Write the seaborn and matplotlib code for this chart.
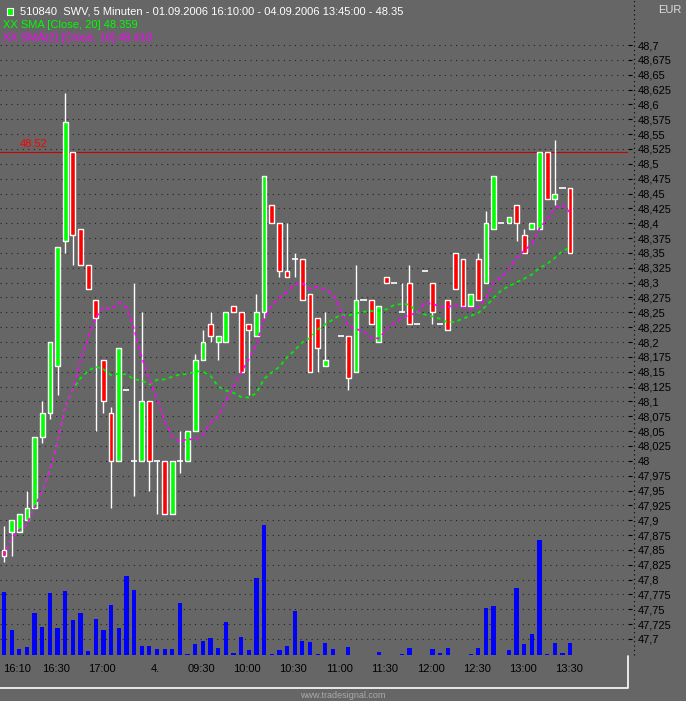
import numpy as np
import pandas as pd
import matplotlib
matplotlib.use("Agg")
import matplotlib.pyplot as plt
import seaborn as sns
from matplotlib.transforms import blended_transform_factory

opens  = [47.85,47.88,47.88,47.90,47.92,48.04,48.08,48.16,48.37,48.52,48.39,48.33,48.27,48.17,48.08,48.00,48.12,48.00,48.00,48.10,
          48.00,48.00,47.91,48.00,48.00,48.05,48.17,48.23,48.20,48.20,48.26,48.25,48.23,48.21,48.25,48.43,48.40,48.32,48.34,48.34,
          48.28,48.24,48.16,np.nan,48.21,48.21,48.15,48.27,48.27,48.20,48.31,48.30,48.25,48.30,48.23,48.32,48.30,48.23,48.27,48.35,
          48.34,48.26,48.34,48.30,48.39,48.40,48.40,48.43,48.38,48.39,48.39,48.52,48.44,48.46,48.46]
highs  = [47.89,47.90,47.91,47.95,48.04,48.10,48.20,48.36,48.62,48.52,48.39,48.33,48.27,48.17,48.09,48.19,48.12,48.30,48.25,48.10,
          48.00,48.00,48.00,48.05,48.05,48.18,48.22,48.25,48.21,48.25,48.26,48.25,48.23,48.28,48.48,48.43,48.40,48.40,48.35,48.34,
          48.28,48.24,48.25,np.nan,48.21,48.21,48.33,48.27,48.27,48.26,48.31,48.30,48.30,48.33,48.23,48.32,48.30,48.23,48.27,48.35,
          48.34,48.28,48.35,48.42,48.48,48.40,48.41,48.43,48.39,48.40,48.52,48.52,48.54,48.46,48.46]
lows   = [47.83,47.84,47.88,47.90,47.92,48.03,48.07,48.11,48.35,48.33,48.33,48.29,48.05,48.08,47.92,48.00,48.12,47.94,48.00,47.95,
          47.91,47.91,47.91,47.98,48.00,48.05,48.17,48.20,48.17,48.20,48.25,48.15,48.11,48.21,48.24,48.40,48.31,48.31,48.31,48.27,
          48.15,48.15,48.16,np.nan,48.21,48.12,48.15,48.27,48.23,48.20,48.30,48.30,48.25,48.23,48.23,48.32,48.23,48.23,48.22,48.29,
          48.26,48.26,48.27,48.30,48.39,48.40,48.40,48.37,48.35,48.39,48.39,48.44,48.43,48.46,48.35]
closes = [47.84,47.90,47.91,47.92,48.04,48.08,48.20,48.36,48.57,48.38,48.33,48.29,48.24,48.10,48.00,48.19,48.12,48.00,48.10,48.00,
          48.00,47.91,48.00,48.00,48.05,48.17,48.20,48.21,48.21,48.25,48.25,48.15,48.22,48.25,48.48,48.40,48.32,48.31,48.34,48.27,
          48.15,48.19,48.17,np.nan,48.21,48.14,48.27,48.27,48.23,48.26,48.30,48.30,48.25,48.23,48.23,48.32,48.25,48.23,48.22,48.29,
          48.26,48.28,48.27,48.40,48.48,48.40,48.41,48.40,48.35,48.40,48.52,48.44,48.45,48.46,48.35]
volumes = [63,25,6,8,42,28,62,27,64,35,42,4,36,25,50,27,79,65,9,9,6,6,6,52,1,11,14,17,7,33,2,18,5,77,130,1,5,9,44,14,
           13,1,12,6,0,8,0,0,0,3,0,0,1,7,0,0,6,2,7,0,0,1,7,47,49,0,5,67,11,21,115,1,12,2,12]
tick_idx = [0,4,10,17,23,29,35,41,47,53,59,65,71]
tick_labels = ["16:10","16:30","17:00","4.","09:30","10:00","10:30","11:00","11:30","12:00","12:30","13:00","13:30"]

df = pd.DataFrame({"i": np.arange(len(closes)), "o": opens, "h": highs, "l": lows, "c": closes, "v": volumes})
cl = df["c"].ffill()
df["sma20"] = cl.rolling(20, min_periods=1).mean()
df["sma10"] = cl.rolling(10, min_periods=1).mean()

sns.set_style("white")
plt.rcParams["font.family"] = ["Liberation Sans", "DejaVu Sans"]
BG = "#666666"
fig = plt.figure(figsize=(6.86, 7.01), dpi=100, facecolor=BG)
ax = fig.add_axes([0, 46/701, 628/686, 655/701], facecolor=BG)
axv = ax.twinx()
ax.set_zorder(2); ax.patch.set_visible(False)
axv.set_zorder(1)

xl = (-4/7.65, 624/7.65)
ax.set_xlim(xl); axv.set_xlim(xl)
ax.set_ylim(47.7 - 16/594, 47.7 + 639/594)
axv.set_ylim(0, 655)

for g in np.arange(47.7, 48.7001, 0.025):
    ax.axhline(g, color="#222222", lw=0.8, ls=(0, (1, 4)), zorder=0)

axv.bar(df["i"], df["v"], width=0.55, color="#0000ff", edgecolor="none", lw=0, zorder=1)

d = df.dropna()
up = d[d.c > d.o]; dn = d[d.c < d.o]; dj = d[d.c == d.o]
ax.vlines(d["i"], d["l"], d["h"], color="white", lw=1, zorder=3)
ax.bar(up["i"], up["c"] - up["o"], bottom=up["o"], width=0.62, color="#00ff00", edgecolor="white", lw=1, zorder=4)
ax.bar(dn["i"], dn["o"] - dn["c"], bottom=dn["c"], width=0.62, color="#ff0000", edgecolor="white", lw=1, zorder=4)
ax.hlines(dj["c"], dj["i"] - 0.4, dj["i"] + 0.4, color="white", lw=1.2, zorder=4)

sns.lineplot(data=df, x="i", y="sma20", ax=ax, color="#00ee00", lw=1.3, ls=(0, (2, 2)), zorder=5)
sns.lineplot(data=df, x="i", y="sma10", ax=ax, color="#ff00ff", lw=1.3, ls=(0, (2, 2)), zorder=5)

ax.axhline(48.52, color="#cc0000", lw=0.8, zorder=2)
ax.text(2.0, 48.525, "48.52", color="#ff0000", fontsize=8, va="bottom")

for a in (ax, axv):
    for s in a.spines.values():
        s.set_visible(False)
axv.set_yticks([])
ax.yaxis.tick_right()
yt = np.round(np.arange(47.7, 48.7001, 0.025), 3)
ax.set_yticks(yt)
ax.set_yticklabels([("%.3f" % v).rstrip("0").rstrip(".").replace(".", ",") for v in yt])
ax.tick_params(axis="y", direction="out", length=3, pad=4, labelsize=8, colors="black")
ax.set_xticks(tick_idx[1:])
ax.set_xticklabels([])
ax.tick_params(axis="x", direction="out", length=4, colors="black")
ax.set_xlabel(""); ax.set_ylabel("")
tr = blended_transform_factory(ax.transData, ax.transAxes)
for t, lab in zip(tick_idx, tick_labels):
    ax.text(t + (1.7 if t == 0 else 2.8), -0.022, lab, transform=tr, ha="center", va="center", fontsize=8, color="black")
ax.plot([631/7.65 - 4/7.65 + 0.4] * 2, [0, 1], transform=tr, color="black", lw=0.8, ls=(0, (1, 3)), clip_on=False)

fig.text(20/686, 1 - 11/701, "510840  SWV, 5 Minuten - 01.09.2006 16:10:00 - 04.09.2006 13:45:00 - 48.35",
         color="white", fontsize=8, va="center")
fig.patches.append(plt.Rectangle((7/686, 1 - 15/701), 6/686, 7/701, transform=fig.transFigure,
                                 facecolor="#00ff00", edgecolor="white", lw=0.8))
fig.text(3/686, 1 - 25/701, "XX SMA [Close, 20] 48.359", color="#00ff00", fontsize=8, va="center")
fig.text(3/686, 1 - 38/701, "XX SMA(2) [Close, 10] 48.418", color="#ff00ff", fontsize=8, va="center")
fig.text(670/686, 1 - 10/701, "EUR", color="#dddddd", fontsize=8, ha="center", va="center")

fig.add_artist(plt.Line2D([0, 628/686, 628/686], [1 - 688/701, 1 - 688/701, 1 - 656/701],
                          transform=fig.transFigure, color="white", lw=1.2))
fig.text(343/686, 1 - 695/701, "www.tradesignal.com", color="#aaaaaa", fontsize=6.5, ha="center", va="center")

fig.savefig("out.png", dpi=100, facecolor=BG)
